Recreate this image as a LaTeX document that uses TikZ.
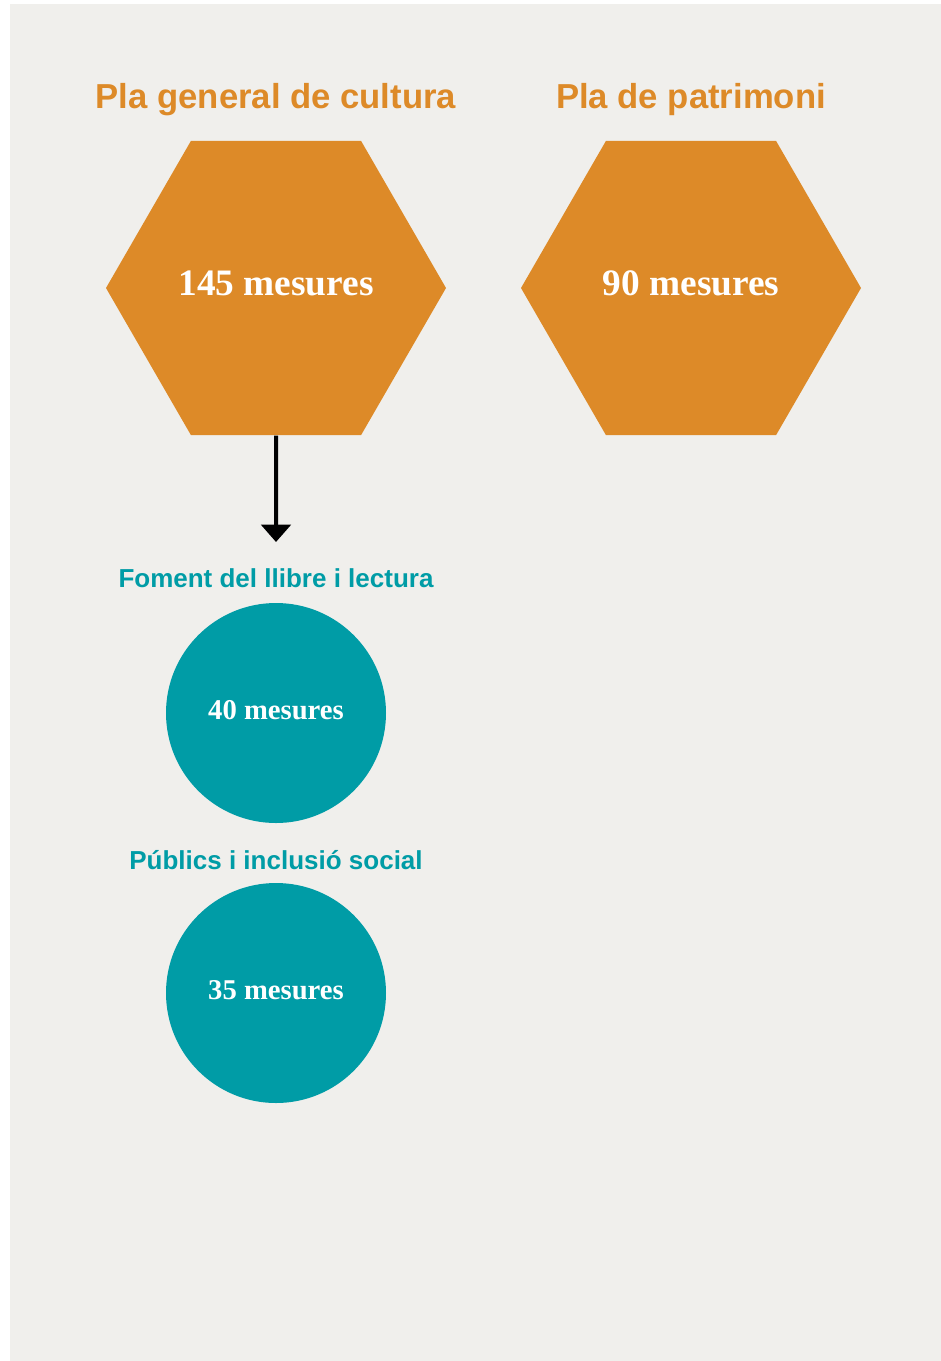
\documentclass[tikz,border=0pt]{standalone}
\usepackage{fontspec}
\setmainfont{Liberation Serif}
\setsansfont{Liberation Sans}
\usetikzlibrary{shapes.geometric,arrows.meta}
\definecolor{fons}{HTML}{F0EFEC}
\definecolor{taronja}{HTML}{DD8A28}
\definecolor{blauverd}{HTML}{009CA6}

\begin{document}
\begin{tikzpicture}[x=0.75pt, y=-0.75pt,
    hexa/.style={regular polygon, regular polygon sides=6, minimum size=255pt,
        inner sep=0pt, fill=taronja, text=white, font=\fontsize{28}{32}\selectfont\bfseries},
    cercle/.style={circle, minimum size=165pt, inner sep=0pt, fill=blauverd,
        text=white, font=\fontsize{21.5}{25}\selectfont\bfseries},
    titol/.style={text=taronja, font=\fontsize{26}{30}\selectfont\sffamily\bfseries},
    subtitol/.style={text=blauverd, font=\fontsize{19.5}{23}\selectfont\sffamily\bfseries}]
    \useasboundingbox (0,0) rectangle (941,1361);
    \fill[fons] (10,4) rectangle (941,1361);

    \node[titol] (tcultura) at (276,100) {Pla general de cultura};
    \node[titol] (tpatrimoni) at (691,100) {Pla de patrimoni};

    \node[hexa] (cultura) at (276,288) {\raisebox{7.5pt}{145 mesures}};
    \node[hexa] (patrimoni) at (691,288) {\raisebox{7.5pt}{90 mesures}};

    \coordinate (fletxa) at (276,542);
    \draw[line width=3pt, -{Triangle[width=22pt,length=13pt]}] (cultura.south) -- (fletxa);

    \node[subtitol] (tllibre) at (276,578) {Foment del llibre i lectura};
    \node[cercle] (llibre) at (276,713) {\raisebox{4pt}{40 mesures}};

    \node[subtitol] (tpublics) at (276,860) {Públics i inclusió social};
    \node[cercle] (publics) at (276,993) {\raisebox{4pt}{35 mesures}};
\end{tikzpicture}
\end{document}
